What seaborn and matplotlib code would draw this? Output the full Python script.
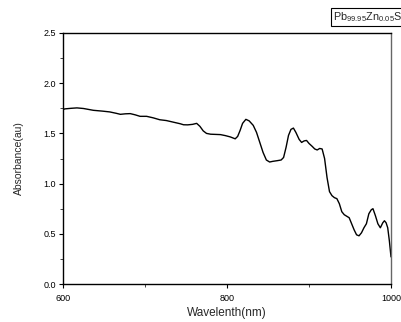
import matplotlib
matplotlib.use("Agg")
import matplotlib.pyplot as plt
import seaborn as sns
from matplotlib.ticker import MultipleLocator

wavelength = [600, 602, 610, 617, 625, 637, 648, 657, 665, 670, 676, 682, 688, 694, 702,
              710, 718, 726, 734, 743, 747, 752, 758, 763, 767, 771, 775, 780, 786, 792,
              798, 804, 810, 813, 816, 819, 823, 827, 832, 836, 840, 844, 848, 852, 856,
              861, 866, 869, 872, 875, 878, 881, 884, 888, 891, 894, 897, 900, 904, 907,
              910, 913, 916, 919, 922, 925, 928, 931, 934, 937, 940, 943, 946, 949, 952,
              955, 958, 961, 964, 967, 970, 973, 976, 978, 981, 984, 987, 990, 992, 994,
              996, 998, 1000]
absorbance = [1.735, 1.744, 1.750, 1.754, 1.748, 1.730, 1.722, 1.714, 1.700, 1.690, 1.695,
              1.697, 1.685, 1.670, 1.670, 1.655, 1.636, 1.628, 1.613, 1.596, 1.586, 1.585,
              1.590, 1.600, 1.570, 1.525, 1.500, 1.492, 1.490, 1.488, 1.478, 1.465, 1.446,
              1.470, 1.530, 1.600, 1.640, 1.625, 1.580, 1.510, 1.410, 1.310, 1.235, 1.215,
              1.222, 1.228, 1.235, 1.260, 1.360, 1.480, 1.540, 1.553, 1.510, 1.440, 1.410,
              1.425, 1.430, 1.400, 1.370, 1.345, 1.335, 1.350, 1.345, 1.250, 1.060, 0.920,
              0.880, 0.860, 0.850, 0.800, 0.720, 0.690, 0.675, 0.660, 0.600, 0.540, 0.490,
              0.480, 0.510, 0.560, 0.600, 0.700, 0.740, 0.750, 0.680, 0.600, 0.560, 0.610,
              0.630, 0.610, 0.560, 0.430, 0.270]

x_ticks = [600, 800, 1000]
y_ticks = [0.0, 0.5, 1.0, 1.5, 2.0, 2.5]
x_label = "Wavelenth(nm)"
y_label = "Absorbance(au)"
legend_label = r"$\mathregular{Pb_{99.95}Zn_{0.05}S}$"

sns.set_style("ticks")
plt.rcParams['font.family'] = ['Liberation Sans', 'DejaVu Sans']
plt.rcParams['mathtext.default'] = 'regular'

fig = plt.figure(figsize=(4.02, 3.22), dpi=100)
ax = fig.add_axes([63/402, 1 - 284/322, 328/402, 251/322])

sns.lineplot(x=wavelength, y=absorbance, ax=ax, color="black", linewidth=1.0)

ax.set_xlim(600, 1000)
ax.set_ylim(0, 2.5)
ax.set_xticks(x_ticks)
ax.set_yticks(y_ticks)
ax.set_yticklabels([f"{v:.1f}" for v in y_ticks])
ax.xaxis.set_minor_locator(MultipleLocator(100))
ax.yaxis.set_minor_locator(MultipleLocator(0.25))
ax.tick_params(axis="both", which="major", direction="out", length=3, width=0.8,
               labelsize=6.5, colors="black")
ax.tick_params(axis="x", which="major", pad=4)
ax.tick_params(axis="y", which="major", pad=2)
ax.tick_params(axis="both", which="minor", direction="out", length=2, width=0.6)
for s in ax.spines.values():
    s.set_visible(True)
    s.set_linewidth(1.0)
    s.set_color("black")
ax.spines["right"].set_color("#666666")

ax.set_xlabel(x_label, fontsize=8.5, labelpad=3)
ax.set_ylabel(y_label, fontsize=7.5, labelpad=14)

fig.text(333/402, 1 - 17/322, legend_label, fontsize=7.8, va="center", ha="left",
         bbox=dict(boxstyle="square,pad=0.15", facecolor="white", edgecolor="black", linewidth=0.8))

fig.savefig("out.png", dpi=100)
